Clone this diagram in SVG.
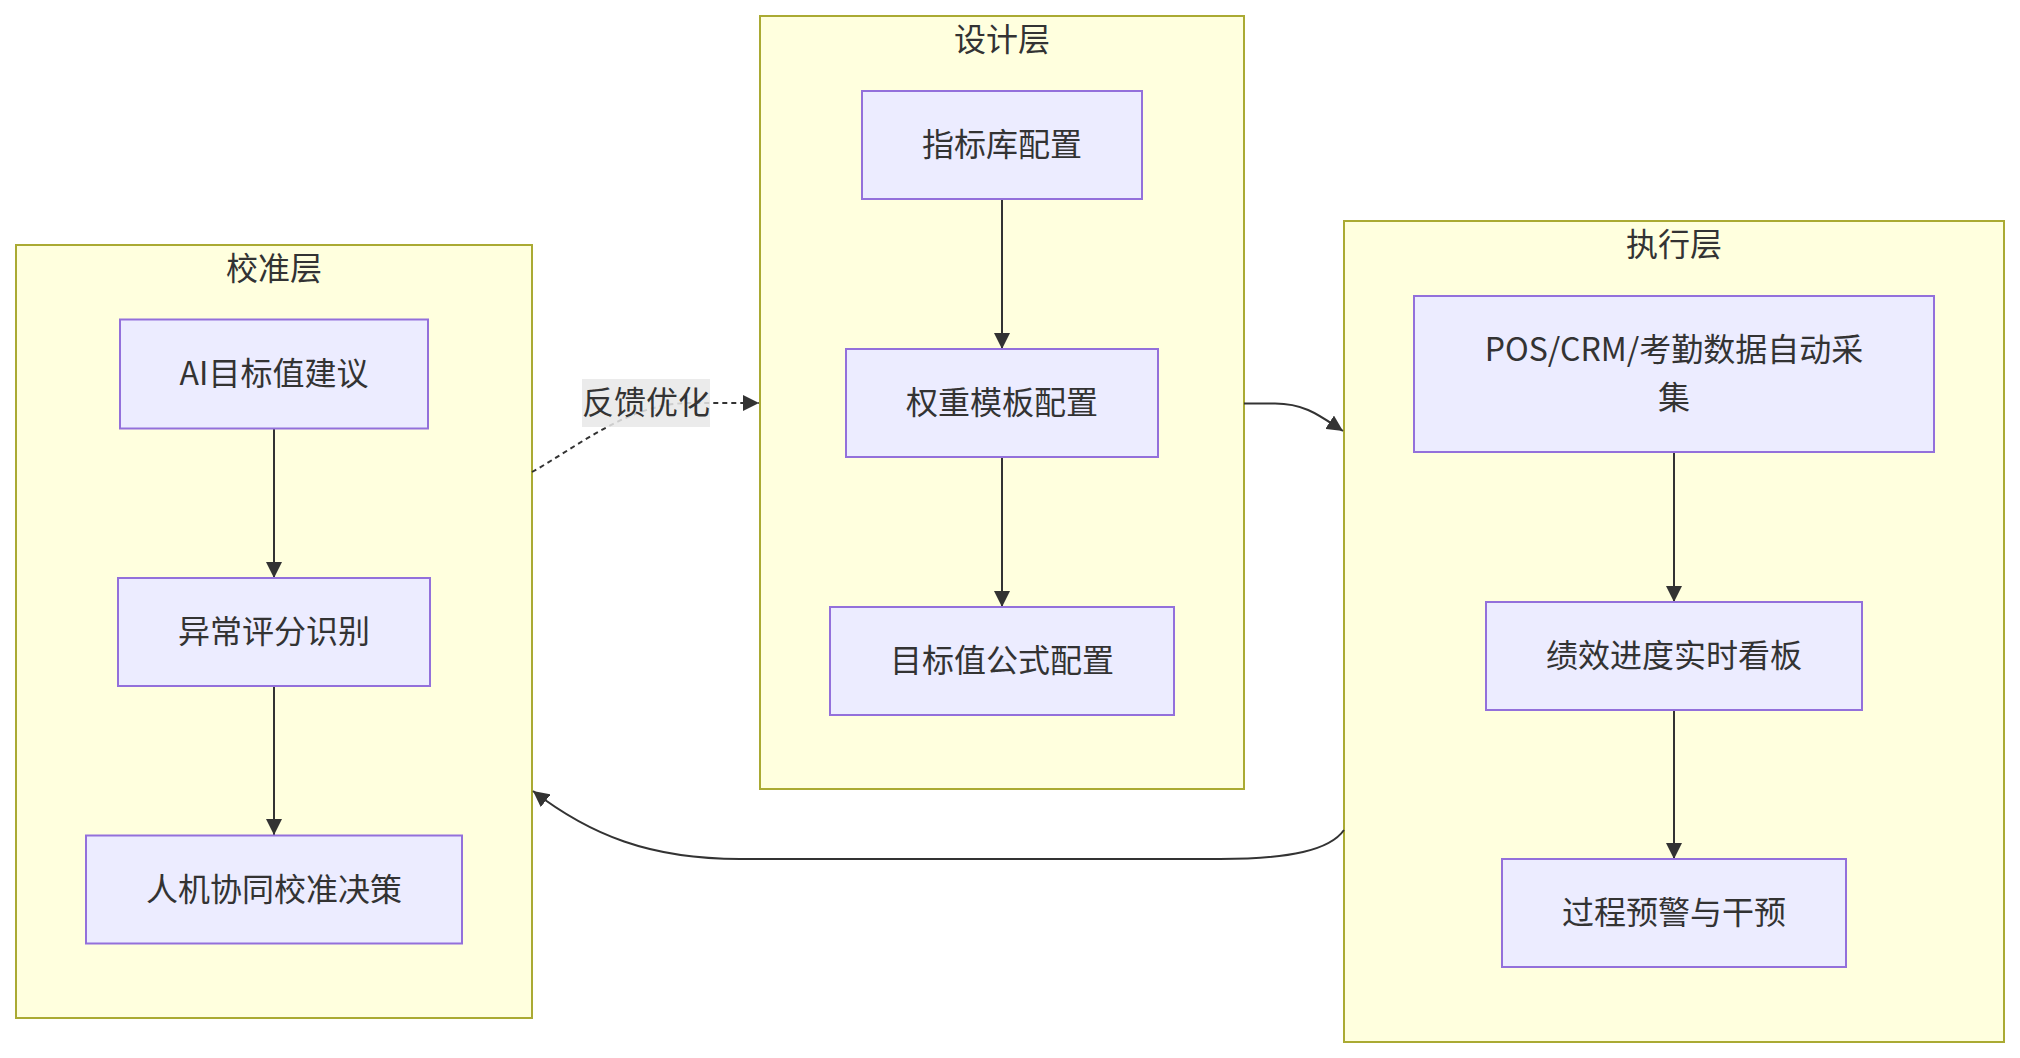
<svg xmlns="http://www.w3.org/2000/svg" width="2020" height="1058" viewBox="0 0 2020 1058">
<style>
.cluster rect{fill:#ffffde;stroke:#aaaa33;stroke-width:2}
.node rect{fill:#ECECFF;stroke:#9370DB;stroke-width:2}
text{font-family:"Noto Sans CJK SC","Noto Sans",sans-serif;font-size:32px;fill:#333333;text-anchor:middle;dominant-baseline:central}
.edge{fill:none;stroke:#333333;stroke-width:2}
.dotted{stroke-dasharray:5 4}
</style>
<defs>
<marker id="arrow" markerUnits="userSpaceOnUse" viewBox="0 0 16 16" refX="16" refY="8" markerWidth="16" markerHeight="16" orient="auto">
<path d="M0,0 L16,8 L0,16 z" fill="#333333"/>
</marker>
</defs>
<rect width="2020" height="1058" fill="#ffffff"/>
<g id="cluster-calib" class="cluster">
<rect x="16" y="245" width="516" height="773"/>
<text x="274" y="266">校准层</text>
</g>
<g id="cluster-design" class="cluster">
<rect x="760" y="16" width="484" height="773"/>
<text x="1002" y="37">设计层</text>
</g>
<g id="cluster-exec" class="cluster">
<rect x="1344" y="221" width="660" height="821"/>
<text x="1674" y="242">执行层</text>
</g>
<g id="edges">
<path class="edge" d="M1002,199 L1002,349" marker-end="url(#arrow)"/>
<path class="edge" d="M1002,457 L1002,607" marker-end="url(#arrow)"/>
<path class="edge" d="M274,428 L274,578" marker-end="url(#arrow)"/>
<path class="edge" d="M274,686 L274,835" marker-end="url(#arrow)"/>
<path class="edge" d="M1674,452 L1674,602" marker-end="url(#arrow)"/>
<path class="edge" d="M1674,710 L1674,859" marker-end="url(#arrow)"/>
<path class="edge" d="M1244,403.5 L1275,403.5 C1305,403.5 1320,416 1343,431" marker-end="url(#arrow)"/>
<path class="edge" d="M1344,830 C1330,850 1290,859 1220,859 L740,859 C650,859 590,835 533,791" marker-end="url(#arrow)"/>
<path class="edge dotted" d="M532,472 C580,445 630,403 690,403 L759,403" marker-end="url(#arrow)"/>
<g id="edge-label">
<rect x="582" y="379" width="128" height="48" fill="#e8e8e8" fill-opacity="0.85"/>
<text x="646" y="400">反馈优化</text>
</g>
</g>
<g id="node-ai" class="node">
<rect x="120" y="319.5" width="308" height="109"/>
<text x="274" y="371">AI目标值建议</text>
</g>
<g id="node-anomaly" class="node">
<rect x="118" y="578" width="312" height="108"/>
<text x="274" y="629">异常评分识别</text>
</g>
<g id="node-decision" class="node">
<rect x="86" y="835.5" width="376" height="108"/>
<text x="274" y="886.5">人机协同校准决策</text>
</g>
<g id="node-index" class="node">
<rect x="862" y="91" width="280" height="108"/>
<text x="1002" y="142">指标库配置</text>
</g>
<g id="node-weight" class="node">
<rect x="846" y="349" width="312" height="108"/>
<text x="1002" y="400">权重模板配置</text>
</g>
<g id="node-formula" class="node">
<rect x="830" y="607" width="344" height="108"/>
<text x="1002" y="658">目标值公式配置</text>
</g>
<g id="node-pos" class="node">
<rect x="1414" y="296" width="520" height="156"/>
<text x="1674" y="347">POS/CRM/考勤数据自动采</text>
<text x="1674" y="395">集</text>
</g>
<g id="node-dashboard" class="node">
<rect x="1486" y="602" width="376" height="108"/>
<text x="1674" y="653">绩效进度实时看板</text>
</g>
<g id="node-warning" class="node">
<rect x="1502" y="859" width="344" height="108"/>
<text x="1674" y="910">过程预警与干预</text>
</g>
</svg>
